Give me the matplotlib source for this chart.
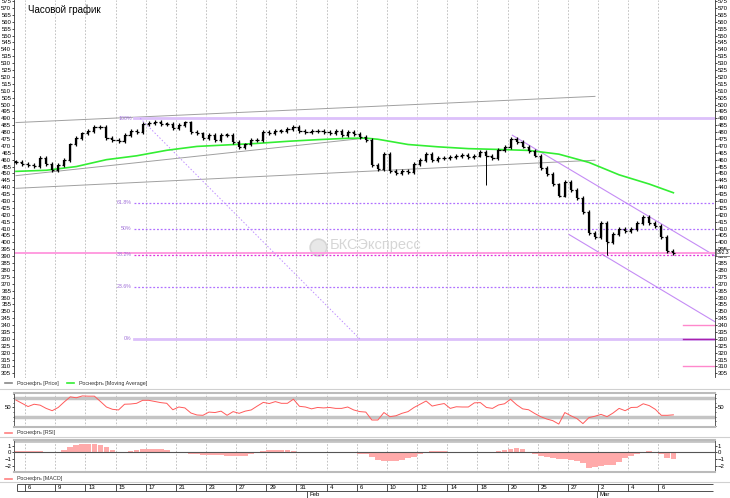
import numpy as np
import matplotlib.pyplot as plt
from matplotlib.transforms import blended_transform_factory

plt.rcParams['font.family'] = ['Liberation Sans', 'DejaVu Sans']

W, H = 730, 498

# hourly closes
close = [458.3, 457, 456, 455.5, 461, 457, 452.5, 456, 460, 471,
         476, 479, 480.5, 483.5, 484, 476, 474, 473.5, 478, 481,
         480, 486, 486.5, 487.5, 486, 486, 483, 485, 487, 480,
         479, 476, 478, 474, 478, 478, 473, 469, 471, 474,
         474.5, 480, 479, 481, 481, 482, 484, 481, 480, 480.5,
         480.5, 480, 479.5, 481, 478, 480, 478.5, 476.5, 474.5, 456,
         453.5, 464, 452, 450, 452, 451, 457, 460, 464, 460,
         461, 461.5, 462, 462.5, 463.5, 462, 463, 465.5, 463, 461,
         467, 469, 475, 473, 469.5, 466.5, 463, 454, 449.5, 442,
         434, 443.5, 438, 432, 422, 407, 404, 414, 400, 406,
         410, 408, 409.5, 414, 418.5, 414, 412, 404, 394, 392.3]
spike_bar = [4, 78, 98]
spike_val = [463, 441.5, 390.7]

# moving average
ma_bar = [0, 5, 10, 15, 20, 25, 30, 35, 40, 45, 50, 55, 58, 60, 65, 70,
          75, 80, 85, 90, 95, 100, 105, 109]
ma_val = [451.5, 452.3, 455, 460, 462.8, 466.8, 469.6, 470.7, 471.8, 473.3,
          474.5, 475.5, 475.6, 474.8, 471, 469.3, 468, 467.4, 466.7, 464,
          458, 449, 442.3, 436]

rsi = [66, 59, 52, 57, 55, 48, 43, 50, 62, 73,
       71, 75, 74.5, 74.5, 63, 51, 46, 44.6, 57, 57.5,
       59, 65.5, 65.5, 63, 60.5, 59, 45, 51, 49, 38,
       33.7, 33, 40, 39, 42, 33, 41, 37.3, 42, 44.6,
       53, 61, 58.5, 62.7, 59, 59, 68, 52.5, 51, 47,
       50, 49, 50, 48, 48, 51, 44.6, 41, 40, 22.8,
       22.8, 39, 30, 32, 37.3, 41, 50, 57, 64, 53,
       56, 58.5, 48, 51.5, 51, 51, 60, 60.5, 50, 48,
       55.4, 58, 67.8, 56, 47, 45, 37, 30, 25, 21.4,
       14, 39, 32, 26, 15, 28, 31, 35, 30, 38,
       48, 43, 50, 50.4, 58, 54, 46, 33, 33, 34]

macd = [0.2, 0.2, 0.2, 0.15, 0.15, 0.1, 0.05, 0.05, 0.35, 0.8,
        1.05, 1.2, 1.25, 1.25, 1.1, 0.8, 0.35, 0.05, 0.08, 0.25,
        0.4, 0.48, 0.5, 0.48, 0.45, 0.35, 0.1, 0, -0.1, -0.22,
        -0.32, -0.35, -0.35, -0.38, -0.42, -0.48, -0.52, -0.55, -0.5, -0.3,
        -0.15, 0.15, 0.28, 0.32, 0.35, 0.35, 0.25, 0.12, 0.05, 0,
        -0.05, -0.05, -0.05, -0.05, -0.05, -0.1, -0.15, -0.22, -0.3, -0.75,
        -1.15, -1.25, -1.25, -1.25, -1.15, -0.9, -0.65, -0.3, 0.1, 0.22,
        0.2, 0.15, 0.1, 0.05, 0.02, 0, 0.03, 0.03, 0, 0,
        0.2, 0.33, 0.55, 0.68, 0.45, 0.1, -0.22, -0.5, -0.7, -0.9,
        -1.0, -1.05, -1.12, -1.3, -1.65, -2.35, -2.15, -2.0, -1.9, -1.9,
        -1.4, -0.85, -0.6, -0.3, 0.1, 0.15, 0.02, -0.3, -0.85, -1.05]

day_labels = ['6', '9', '13', '15', '17', '21', '23', '27', '29', '31',
              '4', '6', '10', '12', '14', '18', '20', '25', '27', '2', '4', '6']
month_labels = ['Feb', 'Mar']
month_bar = [48.3, 96.3]

# fibonacci retracement
fib_hi, fib_lo = 490, 330
fib_start = 19.5
fib_levels = [1.0, 0.618, 0.5, 0.382, 0.236, 0.0]
fib_names = ['100%', '61.8%', '50%', '38.2%', '23.6%', '0%']
fib_diag = [(20.6, 490), (57, 330)]

# drawn lines
gray_lines = [[(0, 486.9), (96, 505.9)],
              [(0, 448.4), (57.9, 475.6)],
              [(0, 439.2), (96, 459.6)]]
channel_lines = [[(82.3, 477.7), (115.9, 390.3)],
                 [(91.7, 405.7), (115.9, 342.4)]]
right_levels = [340, 330, 310]
right_colors = ['#ff88cc', '#aa22aa', '#ff88cc']
last_price = 392.3

xlim = (-0.33, 115.9)
grid_x = [1.5 + 5 * i for i in range(len(day_labels))]

fig = plt.figure(figsize=(W / 100, H / 100), dpi=100)


def panel(top, bottom):
    return fig.add_axes([14 / W, 1 - bottom / H, 701 / W, (bottom - top) / H])


def vgrid(ax):
    for g in grid_x:
        ax.axvline(g, color='#b8b8b8', lw=0.6, ls=(0, (2, 2)), zorder=0)


# ---- price panel
ax = panel(0, 377.5)
ax.set_xlim(xlim)
ax.set_ylim(302, 575.8)
vgrid(ax)

# OHLC bars, open = previous close
bars = np.arange(len(close))
c = np.array(close)
o = np.r_[c[0], c[:-1]]
lo = np.minimum(o, c)
hi = np.maximum(o, c)
ax.vlines(bars, lo - 1.4, hi + 1.4, color='black', lw=0.9, zorder=4)
ax.vlines(bars, lo, np.maximum(hi, lo + 0.5), color='black', lw=1.6, zorder=4)
ax.hlines(o, bars - 0.35, bars, color='black', lw=0.9, zorder=4)
ax.hlines(c, bars, bars + 0.35, color='black', lw=0.9, zorder=4)
ax.vlines(spike_bar, c[spike_bar], spike_val, color='black', lw=0.7, zorder=4)

ax.plot(ma_bar, ma_val, color='#33ee33', lw=1.2, zorder=3)

for ln in gray_lines:
    ax.plot([p[0] for p in ln], [p[1] for p in ln], color='#a0a0a0', lw=0.7, zorder=2)
for ln in channel_lines:
    ax.plot([p[0] for p in ln], [p[1] for p in ln], color='#c58cf5', lw=0.8, zorder=2)

ax.axhline(last_price, color='#ff9de0', lw=1.4, zorder=2)
for lev, name in zip(fib_levels, fib_names):
    val = fib_lo + lev * (fib_hi - fib_lo)
    if lev in (0.0, 1.0):
        ax.plot([fib_start, xlim[1]], [val, val], color='#dcc0fa', lw=2, zorder=2)
    else:
        col = '#dd33dd' if lev == 0.382 else '#b070ff'
        ax.plot([fib_start, xlim[1]], [val, val], color=col, lw=0.9,
                ls=(0, (1.5, 1.5)), zorder=2)
    ax.text(fib_start - 0.3, val, name, fontsize=3.8, color='#a070d8',
            ha='right', va='center')
ax.plot([fib_diag[0][0], fib_diag[1][0]], [fib_diag[0][1], fib_diag[1][1]],
        color='#c090ff', lw=0.7, ls=(0, (1.5, 2)), zorder=2)

for lev, col in zip(right_levels, right_colors):
    ax.plot([110.6, xlim[1]], [lev, lev], color=col, lw=1, zorder=3)

ax.text(0.451, 0.351, 'БКСЭкспресс', transform=ax.transAxes, fontsize=10.5,
        color='#d6d6d6', ha='left', va='center', zorder=0)
ax.plot([0.434], [0.346], 'o', ms=12, mfc='#e8e8e8', mec='#d6d6d6', mew=1.2,
        transform=ax.transAxes, zorder=0)

ax.text(0.02, 0.975, 'Часовой график', transform=ax.transAxes, fontsize=7,
        ha='left', va='center')

ax.set_yticks(np.arange(305, 576, 5))
ax.tick_params(axis='y', which='both', left=True, right=True, labelleft=True,
               labelright=True, labelsize=4.3, length=1.5, pad=0.5, width=0.5)
ax.set_xticks([])
for s in ['top', 'bottom']:
    ax.spines[s].set_visible(False)
for s in ['left', 'right']:
    ax.spines[s].set_linewidth(0.6)
    ax.spines[s].set_color('#333333')

tr = blended_transform_factory(ax.transAxes, ax.transData)
ax.text(1.003, last_price, '%.1f' % last_price, transform=tr, fontsize=3.6,
        ha='left', va='center', zorder=10,
        bbox=dict(boxstyle='square,pad=0.2', fc='white', ec='#555555', lw=0.5))

# ---- RSI panel
ar = panel(392.7, 426.7)
ar.set_xlim(xlim)
ar.set_ylim(8.3, 82)
vgrid(ar)
ar.axhline(70, color='#c4c4c4', lw=2.5, zorder=1)
ar.axhline(30, color='#c4c4c4', lw=2.5, zorder=1)
ar.plot(bars, rsi, color='#ff5a5a', lw=0.7, zorder=3)
ar.set_yticks([50])
ar.set_yticks(np.arange(10, 81, 10), minor=True)
ar.set_xticks([])

# ---- MACD panel
am = panel(440, 471.7)
am.set_xlim(xlim)
am.set_ylim(-2.9, 1.84)
vgrid(am)
am.axhline(1.7, color='#c4c4c4', lw=2, zorder=1)
am.axhline(0, color='#555555', lw=0.8, zorder=3)
am.bar(bars, macd, width=0.95, color='#ffaaaa', lw=0, zorder=2)
am.set_yticks([1, 0, -1, -2])
am.set_xticks([])

for a in (ar, am):
    a.tick_params(axis='y', which='both', left=True, right=True, labelleft=True,
                  labelright=True, labelsize=4.3, length=1.5, pad=0.5, width=0.5)
    a.tick_params(axis='y', which='minor', length=1)
    for s in a.spines.values():
        s.set_linewidth(0.6)
        s.set_color('#444444')
    a.spines['top'].set_color('#bbbbbb')
    a.spines['top'].set_linewidth(1.5)
    a.spines['bottom'].set_color('#bbbbbb')
    a.spines['bottom'].set_linewidth(1.5)

# ---- legends and separators
legend_rows = [(383, [('#888888', 'Роснефть [Price]', 5),
                      ('#33ee33', 'Роснефть [Moving Average]', 67)]),
               (432.7, [('#ff8080', 'Роснефть [RSI]', 5)]),
               (478.5, [('#ff8080', 'Роснефть [MACD]', 5)])]
for py, items in legend_rows:
    for col, txt, px in items:
        fig.add_artist(plt.Line2D([px / W, (px + 7) / W], [1 - py / H] * 2,
                                  color=col, lw=1.2))
        fig.text((px + 12) / W, 1 - py / H, txt, fontsize=3.9, va='center',
                 color='#333333')
for py in (389, 437, 482):
    fig.add_artist(plt.Line2D([0, 1], [1 - py / H] * 2, color='#d0d0d0', lw=0.8))

# ---- date strip
ad = panel(483.3, 498)
ad.set_xlim(xlim)
ad.set_ylim(0, 1)
ad.axis('off')
ad.hlines([0.97, 0.48], 0.1, xlim[1] - 0.3, color='#333333', lw=0.6)
ad.vlines([0.1] + grid_x, 0.48, 0.97, color='#333333', lw=0.6)
for g, lab in zip(grid_x, day_labels):
    ad.text(g + 0.5, 0.72, lab, fontsize=4.3, ha='left', va='center')
for m, lab in zip(month_bar, month_labels):
    ad.vlines(m, 0, 0.48, color='#333333', lw=0.6)
    ad.text(m + 0.4, 0.22, lab, fontsize=4.3, ha='left', va='center')

fig.savefig('out.png', dpi=100)
